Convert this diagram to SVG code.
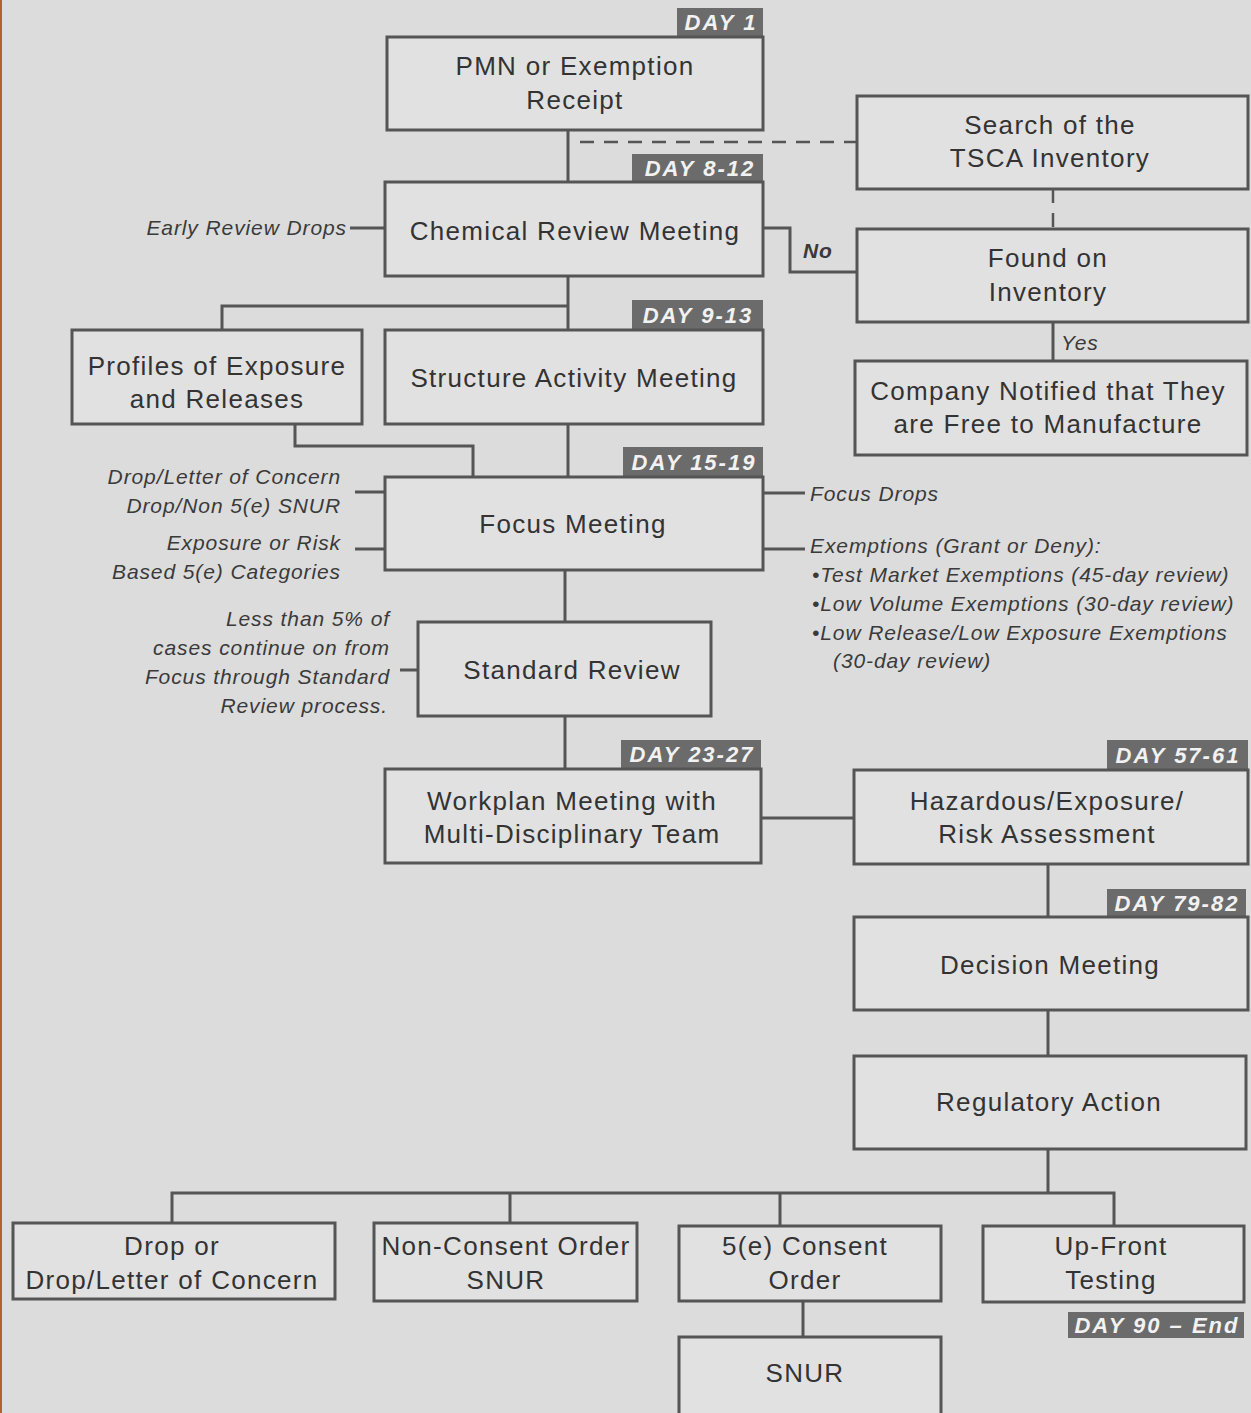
<svg xmlns="http://www.w3.org/2000/svg" width="1251" height="1413" viewBox="0 0 1251 1413">
<style>
.box{fill:#e1e1e1;stroke:#555;stroke-width:3}
.t{font-family:"Liberation Sans",Arial,sans-serif;font-size:26px;fill:#333;text-anchor:middle;letter-spacing:1.3px}
.tag{fill:#6b6b6b}
.tt{font-family:"Liberation Sans",Arial,sans-serif;font-size:22px;font-weight:bold;font-style:italic;fill:#f2f2f2;text-anchor:middle;letter-spacing:2px}
.n{font-family:"Liberation Sans",Arial,sans-serif;font-size:21px;font-style:italic;fill:#3a3a3a;letter-spacing:0.9px}
.r{text-anchor:end}
.c{fill:none;stroke:#555;stroke-width:3}
.d{fill:none;stroke:#555;stroke-width:2.5;stroke-dasharray:14 10}
</style>
<rect width="1251" height="1413" fill="#dcdcdc"/>
<rect width="2" height="1413" fill="#b3622e"/>
<g id="connectors">
<path class="c" d="M568 130V182"/>
<path class="d" d="M580 142H857"/>
<path class="d" d="M1053 189V229"/>
<path class="c" d="M763 228H790V272H857"/>
<path class="c" d="M1053 322V361"/>
<path class="c" d="M350 228H385"/>
<path class="c" d="M568 276V330"/>
<path class="c" d="M568 306H222V330"/>
<path class="c" d="M568 424V477"/>
<path class="c" d="M295 424V446H473V477"/>
<path class="c" d="M355 492H385M355 549H385"/>
<path class="c" d="M763 493H805M763 549H805"/>
<path class="c" d="M565 570V622"/>
<path class="c" d="M400 670H418"/>
<path class="c" d="M565 716V769"/>
<path class="c" d="M761 818H854"/>
<path class="c" d="M1048 864V917"/>
<path class="c" d="M1048 1010V1056"/>
<path class="c" d="M1048 1149V1193"/>
<path class="c" d="M172 1223V1193H1114V1226"/>
<path class="c" d="M510 1193V1223M780 1193V1226"/>
<path class="c" d="M803 1301V1337"/>
</g>
<g id="n-pmn"><rect class="tag" x="677" y="8" width="86" height="28"/><text class="tt" x="721" y="30">DAY 1</text>
<rect class="box" x="387" y="37" width="376" height="93"/><text class="t" x="575" y="75">PMN or Exemption</text><text class="t" x="575" y="109">Receipt</text></g>
<g id="n-chem"><rect class="tag" x="632" y="154" width="131" height="28"/><text class="tt" x="700" y="176">DAY 8-12</text>
<rect class="box" x="385" y="182" width="378" height="94"/><text class="t" x="575" y="240">Chemical Review Meeting</text></g>
<g id="n-search"><rect class="box" x="857" y="96" width="391" height="93"/><text class="t" x="1050" y="134">Search of the</text><text class="t" x="1050" y="167">TSCA Inventory</text></g>
<g id="n-found"><rect class="box" x="857" y="229" width="391" height="93"/><text class="t" x="1048" y="267">Found on</text><text class="t" x="1048" y="301">Inventory</text></g>
<g id="n-company"><rect class="box" x="855" y="361" width="392" height="94"/><text class="t" x="1048" y="400">Company Notified that They</text><text class="t" x="1048" y="433">are Free to Manufacture</text></g>
<g id="n-profiles"><rect class="box" x="72" y="330" width="290" height="94"/><text class="t" x="217" y="375">Profiles of Exposure</text><text class="t" x="217" y="408">and Releases</text></g>
<g id="n-sam"><rect class="tag" x="632" y="300" width="131" height="29"/><text class="tt" x="698" y="323">DAY 9-13</text>
<rect class="box" x="385" y="330" width="378" height="94"/><text class="t" x="574" y="387">Structure Activity Meeting</text></g>
<g id="n-focus"><rect class="tag" x="623" y="447" width="140" height="29"/><text class="tt" x="694" y="470">DAY 15-19</text>
<rect class="box" x="385" y="477" width="378" height="93"/><text class="t" x="573" y="533">Focus Meeting</text></g>
<g id="n-standard"><rect class="box" x="418" y="622" width="293" height="94"/><text class="t" x="572" y="679">Standard Review</text></g>
<g id="n-workplan"><rect class="tag" x="621" y="740" width="140" height="28"/><text class="tt" x="692" y="762">DAY 23-27</text>
<rect class="box" x="385" y="769" width="376" height="94"/><text class="t" x="572" y="810">Workplan Meeting with</text><text class="t" x="572" y="843">Multi-Disciplinary Team</text></g>
<g id="n-hazard"><rect class="tag" x="1107" y="740" width="141" height="29"/><text class="tt" x="1178" y="763">DAY 57-61</text>
<rect class="box" x="854" y="770" width="394" height="94"/><text class="t" x="1047" y="810">Hazardous/Exposure/</text><text class="t" x="1047" y="843">Risk Assessment</text></g>
<g id="n-decision"><rect class="tag" x="1107" y="889" width="139" height="27"/><text class="tt" x="1177" y="911">DAY 79-82</text>
<rect class="box" x="854" y="917" width="394" height="93"/><text class="t" x="1050" y="974">Decision Meeting</text></g>
<g id="n-reg"><rect class="box" x="854" y="1056" width="392" height="93"/><text class="t" x="1049" y="1111">Regulatory Action</text></g>
<g id="n-drop"><rect class="box" x="13" y="1223" width="322" height="76"/><text class="t" x="172" y="1255">Drop or</text><text class="t" x="172" y="1289">Drop/Letter of Concern</text></g>
<g id="n-nonconsent"><rect class="box" x="374" y="1223" width="263" height="78"/><text class="t" x="506" y="1255" letter-spacing="0.3px">Non-Consent Order</text><text class="t" x="506" y="1289">SNUR</text></g>
<g id="n-consent"><rect class="box" x="679" y="1226" width="262" height="75"/><text class="t" x="805" y="1255">5(e) Consent</text><text class="t" x="805" y="1289">Order</text></g>
<g id="n-upfront"><rect class="box" x="983" y="1226" width="261" height="76"/><text class="t" x="1111" y="1255">Up-Front</text><text class="t" x="1111" y="1289">Testing</text>
<rect class="tag" x="1068" y="1312" width="176" height="26"/><text class="tt" x="1157" y="1333">DAY 90 – End</text></g>
<g id="n-snur"><rect class="box" x="679" y="1337" width="262" height="80"/><text class="t" x="805" y="1382">SNUR</text></g>
<g id="labels">
<text class="n r" x="347" y="235" letter-spacing="0.5px">Early Review Drops</text>
<text class="n" x="803" y="258" font-weight="bold">No</text>
<text class="n" x="1061" y="350">Yes</text>
<text class="n r" x="341" y="484">Drop/Letter of Concern</text>
<text class="n r" x="341" y="513">Drop/Non 5(e) SNUR</text>
<text class="n r" x="341" y="550">Exposure or Risk</text>
<text class="n r" x="341" y="579">Based 5(e) Categories</text>
<text class="n" x="810" y="501">Focus Drops</text>
<text class="n" x="810" y="553">Exemptions (Grant or Deny):</text>
<text class="n" x="812" y="582">•Test Market Exemptions (45-day review)</text>
<text class="n" x="812" y="611">•Low Volume Exemptions (30-day review)</text>
<text class="n" x="812" y="640">•Low Release/Low Exposure Exemptions</text>
<text class="n" x="833" y="668">(30-day review)</text>
<text class="n r" x="390" y="626">Less than 5% of</text>
<text class="n r" x="390" y="655">cases continue on from</text>
<text class="n r" x="390" y="684">Focus through Standard</text>
<text class="n r" x="388" y="713">Review process.</text>
</g>
</svg>
